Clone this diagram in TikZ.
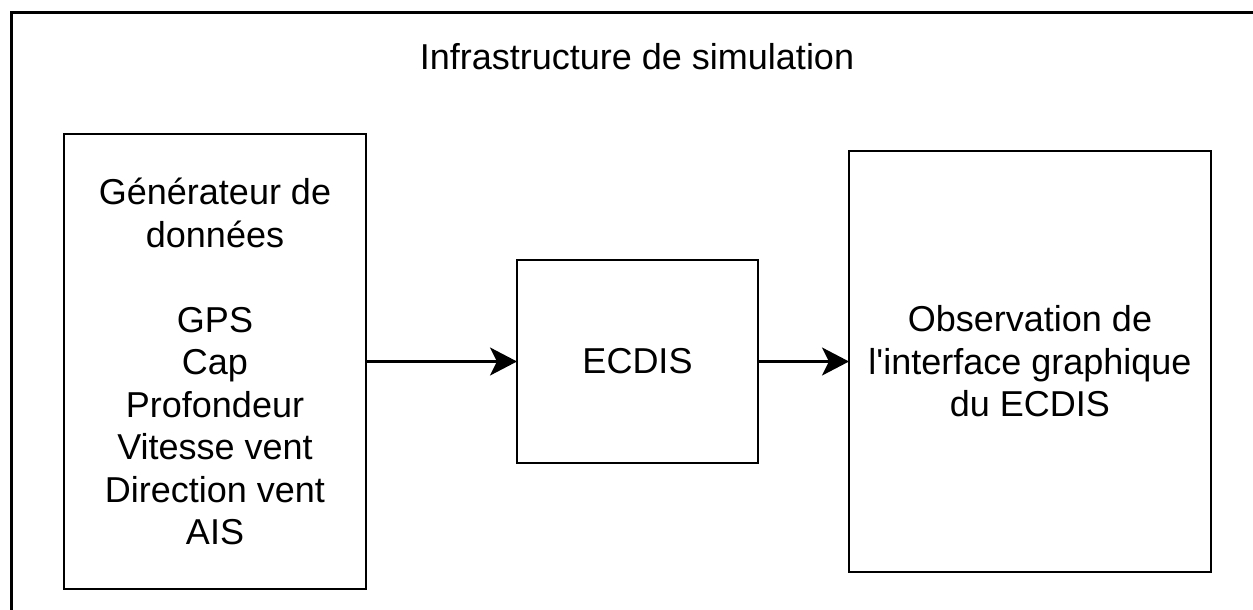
\documentclass[tikz,border=0pt]{standalone}
\usepackage{fontspec}
\setmainfont{Liberation Sans}
\usetikzlibrary{arrows.meta, positioning}
\tikzset{
  frame/.style={rectangle, draw=black, line width=3pt, outer sep=0pt,
    anchor=north west, minimum width=1300pt, minimum height=700pt},
  block/.style={rectangle, draw=black, line width=2.5pt, outer sep=0pt,
    align=center, inner sep=0pt, font=\fontsize{36}{42.5}\selectfont},
  ar/.style={-{Stealth[length=27pt, width=28pt, inset=7pt]}, line width=2.5pt},
}

\begin{document}
\begin{tikzpicture}[x=1pt, y=-1pt, node distance=0pt]

\clip (0,0) rectangle (1253,610);

% ---- Infrastructure ----
\node[frame] (infra) at (11.5,12.5) {};
\node[font=\fontsize{36}{42.5}\selectfont] (title) at (637,57) {Infrastructure de simulation};

% ---- Generateur ----
\node[block, minimum width=302pt, minimum height=455pt] (gen) at (215,361.5) {
  Générateur de\\
  données\\[42.5pt]
  GPS\\
  Cap\\
  Profondeur\\
  Vitesse vent\\
  Direction vent\\
  AIS
};

% ---- ECDIS ----
\node[block, minimum width=241pt, minimum height=203pt, right=151pt of gen] (ecdis) {ECDIS};

% ---- Observation ----
\node[block, minimum width=362pt, minimum height=421pt, right=91pt of ecdis] (obs) {
  Observation de\\
  l\textquotesingle interface graphique\\
  du ECDIS
};

% ---- Liens ----
\draw[ar] (gen.east) -- (ecdis.west);
\draw[ar] (ecdis.east) -- (obs.west);

\end{tikzpicture}
\end{document}
